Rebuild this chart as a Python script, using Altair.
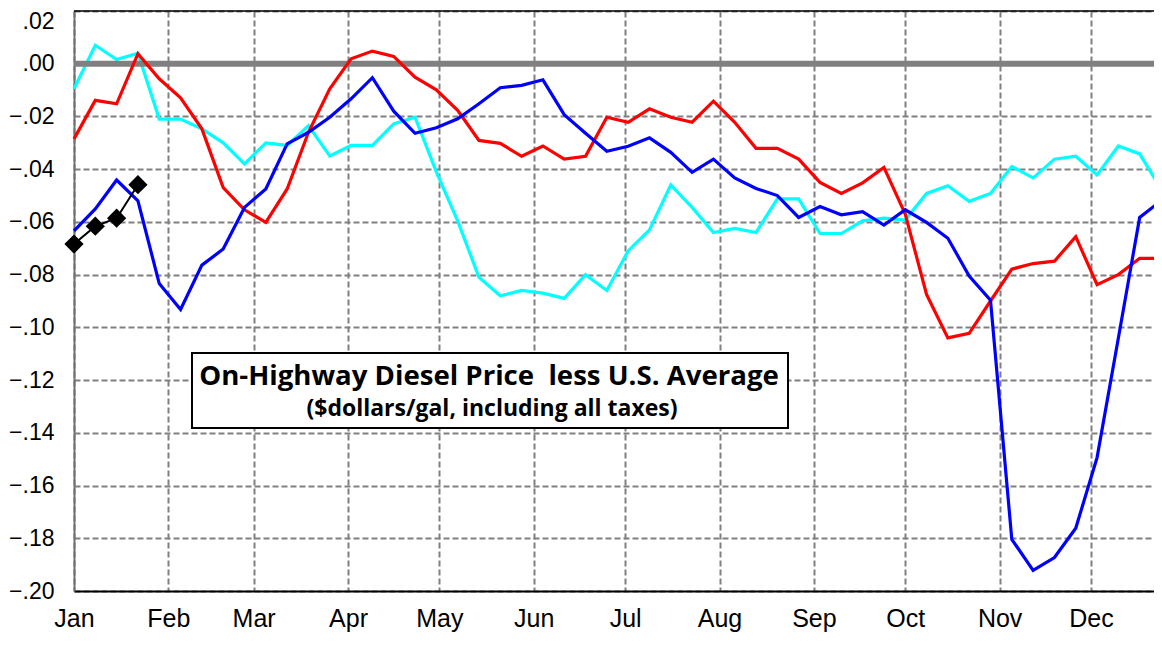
import altair as alt
import pandas as pd

# ---- data ----
months = ["Jan", "Feb", "Mar", "Apr", "May", "Jun", "Jul", "Aug", "Sep", "Oct", "Nov", "Dec"]
month_days = [0, 31, 59, 90, 120, 151, 181, 212, 243, 273, 304, 334]
y_ticks = [0.02, 0.00, -0.02, -0.04, -0.06, -0.08, -0.10, -0.12, -0.14, -0.16, -0.18, -0.20]

weeks = list(range(52))

cyan = [-0.0095, 0.007, 0.0016, 0.004, -0.021, -0.021, -0.0247, -0.030, -0.038, -0.030,
        -0.031, -0.0235, -0.035, -0.031, -0.031, -0.0228, -0.0203, -0.041, -0.0596, -0.081,
        -0.088, -0.086, -0.087, -0.089, -0.080, -0.086, -0.071, -0.063, -0.046, -0.0545,
        -0.064, -0.0625, -0.064, -0.0513, -0.0513, -0.0644, -0.0644, -0.0596, -0.0586, -0.0593,
        -0.0492, -0.0463, -0.0522, -0.0492, -0.039, -0.0433, -0.0362, -0.0351, -0.0422, -0.0312,
        -0.0342, -0.0475]
red = [-0.0285, -0.0139, -0.0152, 0.0038, -0.0057, -0.0129, -0.0247, -0.047, -0.0554, -0.0602,
       -0.0475, -0.026, -0.0095, 0.0019, 0.0048, 0.0028, -0.0051, -0.0099, -0.0177, -0.0291,
       -0.0302, -0.0351, -0.0312, -0.0362, -0.0351, -0.0203, -0.0222, -0.0171, -0.0203, -0.0222,
       -0.0142, -0.0222, -0.0321, -0.0321, -0.0362, -0.045, -0.0492, -0.0452, -0.0393, -0.057,
       -0.0875, -0.104, -0.1023, -0.09, -0.0779, -0.0758, -0.0749, -0.0656, -0.0838, -0.08,
       -0.0738, -0.0738]
blue = [-0.0634, -0.0551, -0.0441, -0.052, -0.0834, -0.0932, -0.0764, -0.0703, -0.0545, -0.0475,
        -0.0304, -0.026, -0.0203, -0.0133, -0.0053, -0.018, -0.0264, -0.0243, -0.0209, -0.0152,
        -0.0091, -0.0082, -0.0061, -0.0193, -0.0264, -0.0332, -0.0313, -0.0281, -0.0336, -0.0412,
        -0.0362, -0.0433, -0.0473, -0.05, -0.0583, -0.0542, -0.0573, -0.0561, -0.0612, -0.0554,
        -0.0602, -0.0662, -0.0805, -0.0897, -0.1804, -0.1922, -0.1873, -0.1762, -0.1494, -0.104,
        -0.0583, -0.052]
black = [-0.0684, -0.0616, -0.0586, -0.0459]

title1 = "On-Highway Diesel Price\u00a0 less U.S. Average"
title2 = "($dollars/gal, including all taxes)"

# ---- tables ----
def frame(name, vals):
    return pd.DataFrame({"day": [w * 7 for w in weeks[:len(vals)]], "value": vals, "series": name})

df = pd.concat([frame("cyan", cyan), frame("red", red), frame("blue", blue), frame("black", black)],
               ignore_index=True)

month_expr = "[" + ",".join("'%s'" % m for m in months) + "][indexof([" + \
    ",".join(str(d) for d in month_days) + "], datum.value)]"

x_enc = alt.X("day:Q",
              scale=alt.Scale(domain=[0, 357], nice=False, zero=False),
              axis=alt.Axis(values=month_days, labelExpr=month_expr, title=None,
                            grid=True, gridDash=[6, 3], gridColor="#808080", gridWidth=2,
                            domainColor="black", domainWidth=2, ticks=False,
                            labelPadding=15, labelFont="Liberation Sans", labelFontSize=25,
                            labelColor="black", labelFlush=False))
y_enc = alt.Y("value:Q",
              scale=alt.Scale(domain=[-0.2, 0.02], nice=False, zero=False),
              axis=alt.Axis(values=y_ticks,
                            labelExpr="replace(format(datum.value, '.2f'), '0.', '.')",
                            labelBaseline={"condition": {"test": "datum.value > 0.01", "value": "top"},
                                           "value": "middle"},
                            labelOffset={"condition": {"test": "datum.value > 0.01", "value": -1},
                                         "value": 0},
                            title=None, grid=True, gridDash=[6, 3], gridColor="#808080",
                            gridWidth=2, domainColor="#707070", domainWidth=2, ticks=False,
                            labelPadding=20, labelFont="Liberation Sans", labelFontSize=23,
                            labelColor="black", labelFlush=False))

base = alt.Chart(df)

def series_line(name, color):
    return base.transform_filter(alt.datum.series == name).mark_line(
        color=color, strokeWidth=3.2).encode(x=x_enc, y=y_enc)

zero = alt.Chart(pd.DataFrame({"value": [0.0]})).mark_rule(
    color="#808080", strokeWidth=6).encode(y="value:Q")
top_border = alt.Chart(pd.DataFrame({"value": [0.02]})).mark_rule(
    color="black", strokeWidth=1.5).encode(y="value:Q")

black_line = base.transform_filter(alt.datum.series == "black").mark_line(
    color="black", strokeWidth=2).encode(x=x_enc, y=y_enc)
black_pts = base.transform_filter(alt.datum.series == "black").mark_point(
    shape="diamond", filled=True, color="black", size=370, opacity=1).encode(x=x_enc, y=y_enc)

box_df = pd.DataFrame({"a": [0]})
box = alt.Chart(box_df).mark_rect(fill="white", stroke="black", strokeWidth=2).encode(
    x=alt.value(118), x2=alt.value(714), y=alt.value(342), y2=alt.value(417))
t1 = alt.Chart(box_df).mark_text(font="Open Sans", fontWeight="bold", fontSize=27.6,
                                 align="center", baseline="middle", color="black").encode(
    x=alt.value(415), y=alt.value(366), text=alt.value(title1))
t2 = alt.Chart(box_df).mark_text(font="Open Sans", fontWeight="bold", fontSize=23,
                                 align="center", baseline="middle", color="black").encode(
    x=alt.value(418), y=alt.value(398), text=alt.value(title2))

chart = alt.layer(
    series_line("cyan", "#00FFFF"),
    zero,
    series_line("red", "#FF0000"),
    series_line("blue", "#0000FF"),
    black_line, black_pts,
    box, t1, t2,
    top_border,
).properties(
    width=1087, height=580,
    autosize=alt.AutoSizeParams(type="none"),
    padding={"left": 66, "top": 3, "right": -7, "bottom": 42},
).configure_view(stroke=None).configure(background="white")

chart.save("out.html", embed_options={"renderer": "svg", "actions": False})
